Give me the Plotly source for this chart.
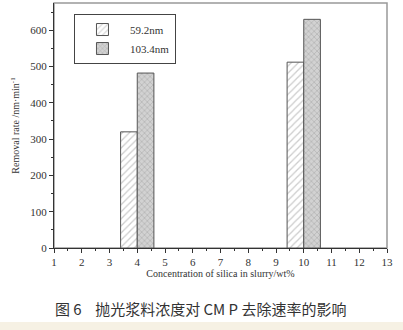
import plotly.graph_objects as go

concentration = [4, 10]
rate_59 = [320, 512]
rate_103 = [482, 630]
series_names = ["59.2nm", "103.4nm"]
x_ticks = list(range(1, 14))
y_ticks = [0, 100, 200, 300, 400, 500, 600]

serif = "Liberation Serif"

fig = go.Figure()
fig.add_trace(go.Bar(
    x=concentration, y=rate_59, name=series_names[0],
    width=0.6, offset=-0.6,
    marker=dict(color="white", line=dict(color="#555", width=1),
                pattern=dict(shape="/", fgcolor="#9a9a9a", size=5, solidity=0.25, fillmode="overlay")),
))
fig.add_trace(go.Bar(
    x=concentration, y=rate_103, name=series_names[1],
    width=0.6, offset=0,
    marker=dict(color="#d2d2d2", line=dict(color="#555", width=1),
                pattern=dict(shape="x", fgcolor="#8a8a8a", size=4, solidity=0.3, fillmode="overlay")),
))

fig.update_layout(
    width=403, height=330,
    margin=dict(l=54, r=16, t=3, b=82),
    paper_bgcolor="white", plot_bgcolor="white",
    barmode="overlay",
    font=dict(family=serif, color="#333"),
    showlegend=True,
    legend=dict(x=0.06, y=0.955, xanchor="left", yanchor="top",
                bordercolor="#444", borderwidth=1, bgcolor="white",
                font=dict(family=serif, size=11, color="#333"),
                tracegroupgap=0, itemwidth=45),
    xaxis=dict(range=[1, 13], tickmode="array", tickvals=x_ticks,
               ticktext=[str(v) for v in x_ticks],
               showgrid=False, zeroline=False, showline=True, linecolor="#333", linewidth=1,
               ticks="outside", ticklen=4, tickcolor="#333",
               minor=dict(dtick=0.5, tick0=1, ticks="outside", ticklen=2, tickcolor="#333"),
               tickfont=dict(family=serif, size=11, color="#333"),
               title=dict(text="Concentration of silica in slurry/wt%", standoff=2,
                          font=dict(family=serif, size=10, color="#333"))),
    yaxis=dict(range=[0, 675], tickmode="array", tickvals=y_ticks,
               ticktext=[str(v) for v in y_ticks],
               showgrid=False, zeroline=False, showline=True, linecolor="#333", linewidth=1,
               ticks="outside", ticklen=4, tickcolor="#333",
               minor=dict(dtick=50, tick0=0, ticks="outside", ticklen=2, tickcolor="#333"),
               tickfont=dict(family=serif, size=11, color="#333"),
               title=dict(text="Removal rate /nm·min<sup>-1</sup>", standoff=8,
                          font=dict(family=serif, size=10, color="#333"))),
)

# frame top/right
fig.add_shape(type="rect", xref="paper", yref="paper", x0=0, x1=1, y0=0, y1=1,
              line=dict(color="#999", width=1.5), layer="below")
# beige strip at bottom
fig.add_shape(type="rect", xref="paper", yref="paper", x0=-0.2, x1=1.1, y0=-0.302, y1=-0.4,
              line=dict(width=0), fillcolor="#f6f1e4", layer="below")
fig.add_annotation(text="图 6    抛光浆料浓度对 CM P 去除速率的影响", xref="paper", yref="paper",
                   x=0.44, y=-0.245, xanchor="center", yanchor="middle", showarrow=False,
                   font=dict(family="Noto Sans CJK SC", size=15, color="#333"))

fig.write_html("out.html")
